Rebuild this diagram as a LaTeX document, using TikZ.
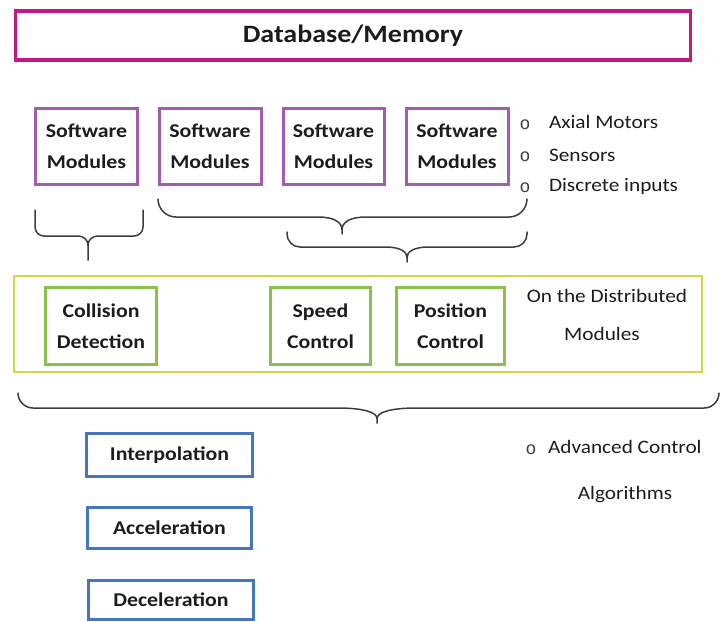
\documentclass[tikz,border=0pt]{standalone}
\usepackage{fontspec}
\setmainfont[FakeStretch=1.12]{Carlito}
\newfontfamily\bulletfont{Liberation Mono}

\definecolor{dbmagenta}{RGB}{194,24,128}
\definecolor{swpurple}{RGB}{163,92,176}
\definecolor{distyellow}{RGB}{214,214,66}
\definecolor{ctrlgreen}{RGB}{138,192,80}
\definecolor{algoblue}{RGB}{70,118,190}
\definecolor{bracegray}{RGB}{60,60,60}
\definecolor{inkgray}{RGB}{28,28,28}

% Horizontal curly brace opening upwards:
% #1 left x, #2 right x, #3 tip x, #4 end y, #5 bar y, #6 tip y,
% #7 end radius, #8 half width of the tip curve, #9 where the tip curves meet (0..1)
\newcommand\curlybrace[9]{%
  \draw[bracestroke]
    (#1,#4) -- (#1,{#5-#7})
    .. controls (#1,{#5-0.45*#7}) and ({#1+0.45*#7},#5) .. ({#1+#7},#5)
    -- ({#3-#8},#5)
    .. controls ({#3-0.3*#8},#5) and (#3,{#5+0.45*#9*(#6-#5)}) .. (#3,{#5+#9*(#6-#5)})
    -- (#3,#6)
    (#3,{#5+#9*(#6-#5)})
    .. controls (#3,{#5+0.45*#9*(#6-#5)}) and ({#3+0.3*#8},#5) .. ({#3+#8},#5)
    -- ({#2-#7},#5)
    .. controls ({#2-0.45*#7},#5) and (#2,{#5-0.45*#7}) .. (#2,{#5-#7})
    -- (#2,#4);}

\begin{document}
\begin{tikzpicture}[x=1pt,y=-1pt,
  every node/.style={inner sep=0pt, outer sep=0pt, text=inkgray},
  box/.style={draw, align=center, font=\fontsize{19.5}{31}\selectfont\bfseries},
  dbbox/.style={box, draw=dbmagenta, line width=3.5pt,
    font=\fontsize{25}{30}\selectfont\bfseries},
  swbox/.style={box, draw=swpurple, line width=3pt,
    minimum width=102pt, minimum height=76pt},
  distbox/.style={draw=distyellow, line width=2.2pt},
  ctrlbox/.style={box, draw=ctrlgreen, line width=3pt, minimum height=77pt},
  algobox/.style={box, draw=algoblue, line width=3pt},
  sidetext/.style={font=\fontsize{19}{23}\selectfont},
  bulletmark/.style={font=\bulletfont\fontsize{18}{18}\selectfont, text=inkgray!85},
  bracestroke/.style={draw=bracegray, line width=1.5pt, line cap=round, line join=round}
]
\useasboundingbox (0,0) rectangle (720,621);

% Top store
\node[dbbox, minimum width=675pt, minimum height=49pt] (db) at (353,35.5) {Database/Memory};

% Software module row
\node[swbox] (sw1) at (86.5,146.5) {Software\\Modules};
\node[swbox] (sw2) at (210,146.5)  {Software\\Modules};
\node[swbox, minimum width=101pt] (sw3) at (333.5,146.5) {Software\\Modules};
\node[swbox] (sw4) at (457,146.5)  {Software\\Modules};

% Bulleted list beside the modules
\node[bulletmark] (b1) at (525,125) {o};
\node[bulletmark] (b2) at (525,157) {o};
\node[bulletmark] (b3) at (525,188) {o};
\node[sidetext, anchor=west] (ax) at (549,122) {Axial Motors};
\node[sidetext, anchor=west] (se) at (549,155) {Sensors};
\node[sidetext, anchor=west] (di) at (549,186) {Discrete inputs};

% Braces grouping the modules
\curlybrace{35}{143}{88}{210}{236}{260}{9}{11}{0.4}
\curlybrace{158}{527}{342}{199}{217}{234}{18}{24}{0.75}
\curlybrace{287}{527}{407}{232}{247}{262}{13}{22}{0.7}

% Distributed modules frame
\node[distbox, minimum width=687.5pt, minimum height=95.5pt] (dist) at (358,324) {};
\node[ctrlbox, minimum width=111pt] (coll) at (101,326)  {Collision\\Detection};
\node[ctrlbox, minimum width=100pt] (spd)  at (320.5,326) {Speed\\Control};
\node[ctrlbox, minimum width=108pt] (pos)  at (450.5,326) {Position\\Control};
\node[sidetext] (ond) at (607,296) {On the Distributed};
\node[sidetext] (onm) at (602,334) {Modules};

% Brace under the whole frame
\curlybrace{18}{719}{377}{393}{408}{423}{15}{40}{0.7}

% Advanced control algorithms
\node[algobox, minimum width=166pt, minimum height=43pt] (interp) at (169.5,455) {Interpolation};
\node[algobox, minimum width=164pt, minimum height=41pt] (accel)  at (169.5,528) {Acceleration};
\node[algobox, minimum width=165pt, minimum height=39pt] (decel)  at (171,600)   {Deceleration};
\node[bulletmark] (b4) at (531,450) {o};
\node[sidetext, anchor=west] (adv) at (548,447) {Advanced Control};
\node[sidetext] (alg) at (625,495) {Algorithms};
\end{tikzpicture}
\end{document}
